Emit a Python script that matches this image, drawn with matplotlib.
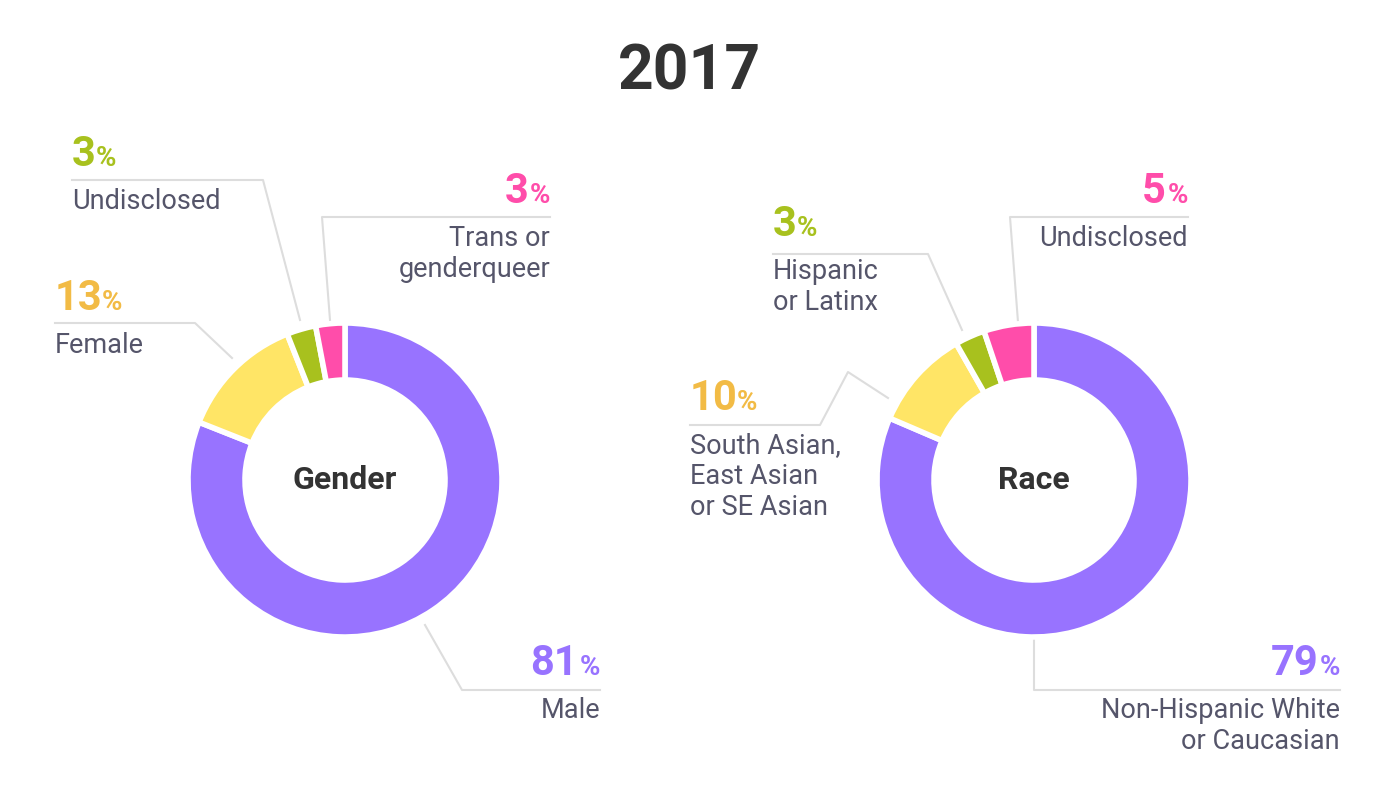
import matplotlib.pyplot as plt

# data
gender_labels = ["Male", "Female", "Undisclosed", "Trans or\ngenderqueer"]
gender_values = [81, 13, 3, 3]
race_labels = ["Non-Hispanic White\nor Caucasian", "South Asian,\nEast Asian\nor SE Asian",
               "Hispanic\nor Latinx", "Undisclosed"]
race_values = [79, 10, 3, 5]

slice_colors = ["#9873FF", "#FFE566", "#A8C11E", "#FF4DAA"]
pct_colors = ["#9873FF", "#F2BB45", "#A8C11E", "#FF4DAA"]
grey = "#55556a"
line_c = "#dddddd"
FONT = "Roboto"

fig = plt.figure(figsize=(13.8, 8), dpi=100)
ax = fig.add_axes([0, 0, 1, 1])
ax.axis("off")

def donut(values, cx, cy, title):
    # y axis is inverted: startangle -90 is 12 o'clock and counterclock=True runs clockwise on screen
    ax.pie(values, center=(cx, cy), radius=157, startangle=-90, counterclock=True,
           colors=slice_colors, frame=True,
           wedgeprops=dict(width=57, edgecolor="white", linewidth=4))
    ax.text(cx, cy, title, ha="center", va="center", fontsize=23, fontweight="bold",
            color="#333333", family=FONT)

donut(gender_values, 345, 480, "Gender")
donut(race_values, 1034, 480, "Race")
ax.set_xlim(0, 1380)
ax.set_ylim(800, 0)
ax.set_aspect("auto")
ax.axis("off")

ax.text(690, 72, "2017", ha="center", va="center", fontsize=45, fontweight="bold",
        color="#333333", family=FONT)

def label(val, text, col, x, y, align):
    if align == "right":
        ax.text(x, y, "%", ha="right", va="baseline", fontsize=20, fontweight="bold", color=col, family=FONT)
        ax.text(x - 22, y, str(val), ha="right", va="baseline", fontsize=30, fontweight="bold", color=col, family=FONT)
    else:
        t = str(val)
        ax.text(x, y, t, ha="left", va="baseline", fontsize=30, fontweight="bold", color=col, family=FONT)
        ax.text(x + 23 * len(t) + 1, y, "%", ha="left", va="baseline", fontsize=20, fontweight="bold", color=col, family=FONT)
    ax.text(x, y + 22, text, ha=align, va="top", fontsize=19.5, color=grey, family=FONT, linespacing=1.2)

def leader(xs, ys):
    ax.plot(xs, ys, color=line_c, lw=1.5, zorder=0)

# gender annotations
leader([425, 462, 600], [625, 690, 690])
label(gender_values[0], gender_labels[0], pct_colors[0], 600, 675, "right")
leader([232, 195, 55], [358, 323, 323])
label(gender_values[1], gender_labels[1], pct_colors[1], 55, 310, "left")
leader([300, 263, 72], [320, 180, 180])
label(gender_values[2], gender_labels[2], pct_colors[2], 72, 166, "left")
leader([330, 322, 550], [320, 217, 217])
label(gender_values[3], gender_labels[3], pct_colors[3], 550, 203, "right")

# race annotations
leader([1034, 1034, 1340], [640, 690, 690])
label(race_values[0], race_labels[0], pct_colors[0], 1340, 675, "right")
leader([888, 848, 820, 690], [398, 372, 425, 425])
label(race_values[1], race_labels[1], pct_colors[1], 690, 410, "left")
leader([962, 928, 773], [330, 254, 254])
label(race_values[2], race_labels[2], pct_colors[2], 773, 236, "left")
leader([1018, 1010, 1188], [322, 217, 217])
label(race_values[3], race_labels[3], pct_colors[3], 1188, 203, "right")

fig.savefig("out.png", dpi=100, facecolor="white")
